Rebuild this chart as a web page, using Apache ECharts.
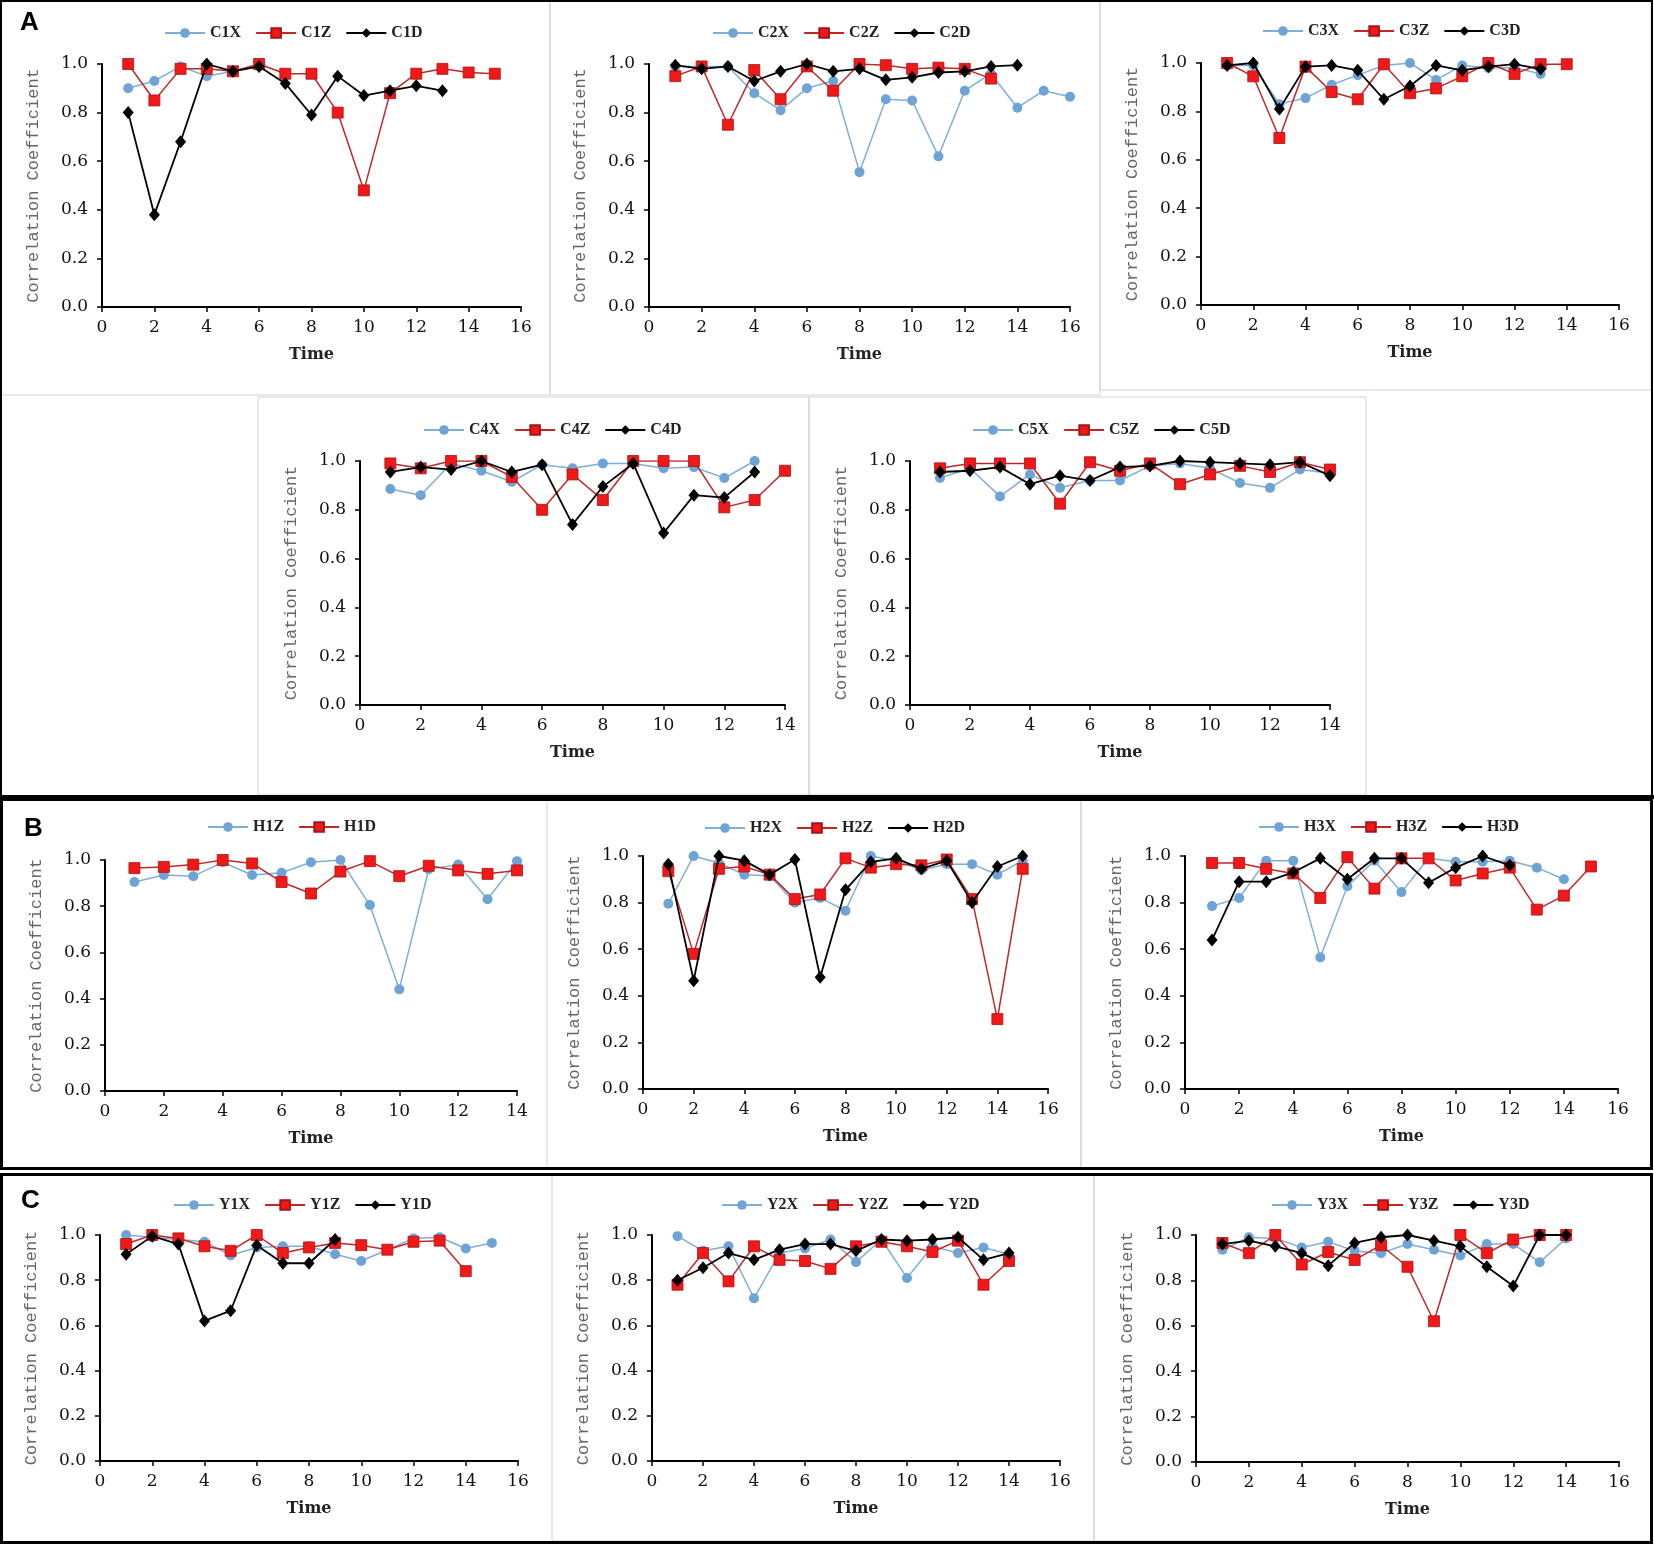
<!DOCTYPE html>
<html><head><meta charset="utf-8">
<script src="https://cdn.jsdelivr.net/npm/echarts@6/dist/echarts.min.js"></script>
<style>html,body{margin:0;padding:0;background:#fff}#c{width:1654px;height:1545px}</style>
</head><body><div id="c"></div><script>
// ---- data (x = Time 1..n) ----
const C1X = [0.90,0.93,0.99,0.95,0.97,0.99];
const C1Z = [1.00,0.85,0.98,0.98,0.97,1.00,0.96,0.96,0.80,0.48,0.88,0.96,0.98,0.965,0.96];
const C1D = [0.80,0.38,0.68,1.00,0.97,0.99,0.92,0.79,0.95,0.87,0.89,0.91,0.89];

const C2X = [0.99,0.99,0.99,0.88,0.81,0.90,0.93,0.555,0.855,0.85,0.62,0.89,0.96,0.82,0.89,0.865];
const C2Z = [0.95,0.99,0.75,0.975,0.855,0.99,0.89,1.00,0.995,0.98,0.985,0.98,0.94];
const C2D = [0.995,0.98,0.99,0.93,0.97,1.00,0.97,0.98,0.935,0.945,0.965,0.97,0.99,0.995];

const C3X = [0.99,0.99,0.83,0.855,0.91,0.95,0.99,1.00,0.93,0.99,0.98,0.98,0.955];
const C3Z = [1.00,0.945,0.69,0.985,0.88,0.85,0.995,0.875,0.895,0.945,1.00,0.955,0.995,0.995];
const C3D = [0.99,1.00,0.81,0.985,0.99,0.97,0.85,0.905,0.99,0.97,0.985,0.995,0.975];

const C4X = [0.885,0.86,0.99,0.96,0.915,0.985,0.97,0.99,0.99,0.97,0.975,0.93,1.00];
const C4Z = [0.99,0.97,1.00,1.00,0.935,0.80,0.945,0.84,1.00,1.00,1.00,0.81,0.84,0.96];
const C4D = [0.955,0.975,0.965,1.00,0.955,0.985,0.74,0.895,0.99,0.705,0.86,0.85,0.955];

const C5X = [0.93,0.97,0.855,0.945,0.89,0.92,0.92,0.98,0.99,0.97,0.91,0.89,0.965,0.95];
const C5Z = [0.97,0.99,0.99,0.99,0.825,0.995,0.96,0.99,0.905,0.945,0.98,0.955,0.995,0.965];
const C5D = [0.955,0.96,0.975,0.905,0.94,0.92,0.975,0.98,1.00,0.995,0.99,0.985,0.995,0.94];

const H1Z = [0.905,0.935,0.93,0.99,0.935,0.945,0.99,1.00,0.805,0.44,0.96,0.98,0.83,0.995];
const H1D = [0.965,0.97,0.98,1.00,0.985,0.905,0.855,0.95,0.995,0.93,0.975,0.955,0.94,0.955];

const H2X = [0.795,1.00,0.97,0.92,0.915,0.80,0.82,0.765,1.00,0.98,0.94,0.965,0.965,0.92,0.98];
const H2Z = [0.935,0.58,0.945,0.955,0.92,0.815,0.835,0.99,0.95,0.965,0.96,0.985,0.815,0.30,0.945];
const H2D = [0.965,0.465,1.00,0.98,0.92,0.985,0.48,0.855,0.975,0.99,0.945,0.98,0.80,0.955,1.00];

const H3X = [0.785,0.82,0.98,0.98,0.565,0.87,0.98,0.845,0.99,0.975,0.975,0.98,0.95,0.90];
const H3Z = [0.97,0.97,0.945,0.925,0.82,0.995,0.86,0.99,0.99,0.895,0.925,0.95,0.77,0.83,0.955];
const H3D = [0.64,0.89,0.89,0.93,0.99,0.90,0.99,0.99,0.885,0.95,1.00,0.96];

const Y1X = [1.00,0.99,0.98,0.97,0.91,0.945,0.95,0.95,0.915,0.885,0.935,0.985,0.99,0.94,0.965];
const Y1Z = [0.96,1.00,0.985,0.95,0.93,1.00,0.92,0.945,0.965,0.955,0.935,0.97,0.975,0.84];
const Y1D = [0.915,0.995,0.96,0.62,0.665,0.955,0.875,0.875,0.98];

const Y2X = [0.995,0.93,0.95,0.72,0.92,0.94,0.98,0.88,0.98,0.81,0.95,0.92,0.945,0.915];
const Y2Z = [0.78,0.92,0.795,0.95,0.89,0.885,0.85,0.95,0.97,0.95,0.925,0.975,0.78,0.885];
const Y2D = [0.80,0.855,0.92,0.89,0.935,0.96,0.96,0.93,0.98,0.975,0.98,0.99,0.89,0.92];

const Y3X = [0.935,0.99,0.985,0.945,0.97,0.93,0.92,0.96,0.935,0.91,0.96,0.96,0.88,0.985];
const Y3Z = [0.965,0.92,1.00,0.87,0.925,0.89,0.955,0.86,0.62,1.00,0.92,0.98,1.00,1.00];
const Y3D = [0.96,0.975,0.95,0.92,0.865,0.965,0.99,1.00,0.975,0.95,0.86,0.775,1.00,1.00];

const X_AXIS_NAME = 'Time';
const Y_AXIS_NAME = 'Correlation Coefficient';
const SECTION_LABELS = ['A','B','C'];

// ---- layout ----
const panels = [
  {s:[['C1X',C1X],['C1Z',C1Z],['C1D',C1D]], xMax:16, g:[102,64,419,243], lg:[159,29]},
  {s:[['C2X',C2X],['C2Z',C2Z],['C2D',C2D]], xMax:16, g:[649,64,421,243], lg:[707,29]},
  {s:[['C3X',C3X],['C3Z',C3Z],['C3D',C3D]], xMax:16, g:[1201,63,418,242], lg:[1257,27]},
  {s:[['C4X',C4X],['C4Z',C4Z],['C4D',C4D]], xMax:14, g:[360,461,425,244], lg:[418,426]},
  {s:[['C5X',C5X],['C5Z',C5Z],['C5D',C5D]], xMax:14, g:[910,461,420,244], lg:[967,426]},
  {s:[['H1Z',H1Z],['H1D',H1D]], xMax:14, g:[105,860,412,231], lg:[202,823]},
  {s:[['H2X',H2X],['H2Z',H2Z],['H2D',H2D]], xMax:16, g:[643,856,405,233], lg:[699,824]},
  {s:[['H3X',H3X],['H3Z',H3Z],['H3D',H3D]], xMax:16, g:[1185,856,433,233], lg:[1253,823]},
  {s:[['Y1X',Y1X],['Y1Z',Y1Z],['Y1D',Y1D]], xMax:16, g:[100,1235,418,226], lg:[168,1201]},
  {s:[['Y2X',Y2X],['Y2Z',Y2Z],['Y2D',Y2D]], xMax:16, g:[652,1235,408,226], lg:[716,1201]},
  {s:[['Y3X',Y3X],['Y3Z',Y3Z],['Y3D',Y3D]], xMax:16, g:[1196,1235,423,227], lg:[1266,1201]}
];

const styles = [
  {symbol:'circle', size:10, fill:'#6ea3d5', border:'#6ea3d5', bw:0, line:'#7eaed9', lw:1.5},
  {symbol:'rect', size:11, fill:'#f01818', border:'#a81414', bw:0.8, line:'#c02828', lw:1.5},
  {symbol:'diamond', size:[11,13], fill:'#000000', border:'#000000', bw:0, line:'#000000', lw:1.8}
];

const tickFont = {fontFamily:'DejaVu Serif', fontSize:17, color:'#111'};

const grid = [], xAxis = [], yAxis = [], legend = [], series = [];
panels.forEach((p,i) => {
  grid.push({left:p.g[0], top:p.g[1], width:p.g[2], height:p.g[3], containLabel:false});
  xAxis.push({type:'value', gridIndex:i, min:0, max:p.xMax, interval:2,
    name:X_AXIS_NAME, nameLocation:'middle', nameGap:40,
    nameTextStyle:{fontFamily:'DejaVu Serif', fontSize:16, fontWeight:'bold', color:'#222'},
    axisLine:{show:true, onZero:false, lineStyle:{color:'#000', width:2}},
    axisTick:{show:true, length:5, lineStyle:{color:'#000', width:1.5}},
    axisLabel:Object.assign({margin:12}, tickFont),
    splitLine:{show:false}});
  yAxis.push({type:'value', gridIndex:i, min:0, max:1, interval:0.2,
    name:Y_AXIS_NAME, nameLocation:'middle', nameGap:60,
    nameTextStyle:{fontFamily:'Liberation Mono', fontSize:17, color:'#666'},
    axisLine:{show:true, lineStyle:{color:'#000', width:2}},
    axisTick:{show:true, length:5, lineStyle:{color:'#000', width:1.5}},
    axisLabel:Object.assign({margin:14, formatter:v => v.toFixed(1)}, tickFont),
    splitLine:{show:false}});
  legend.push({data:p.s.map(d=>d[0]), left:p.lg[0], top:p.lg[1]-9, itemWidth:40, itemHeight:12, itemGap:14,
    textStyle:{fontFamily:'Liberation Serif', fontSize:16, fontWeight:'bold', color:'#222'}});
  p.s.forEach((d,j) => {
    const st = styles[j];
    series.push({type:'line', name:d[0], xAxisIndex:i, yAxisIndex:i,
      data:d[1].map((v,k)=>[k+1,v]),
      symbol:st.symbol, symbolSize:st.size, showAllSymbol:true,
      itemStyle:{color:st.fill, borderColor:st.border, borderWidth:st.bw},
      lineStyle:{color:st.line, width:st.lw},
      z:2+j, animation:false});
  });
});

const gray = '#d2d2d2';
const R = (x,y,w,h,c,lw) => ({type:'rect', silent:true, shape:{x,y,width:w,height:h}, style:{fill:'none', stroke:c, lineWidth:lw}});
const graphic = [
  R(0,0,550,395,gray,1), R(550,0,550,395,gray,1), R(1100,0,551,390,gray,1),
  R(258,397,551,398,gray,1), R(809,397,557,398,gray,1),
  R(547,800,534,368,gray,1), R(1081,800,570,368,gray,1),
  R(552,1175,542,366,gray,1), R(1094,1175,557,366,gray,1),
  R(1,1,1651,795,'#000',2),
  {type:'line', silent:true, shape:{x1:0,y1:797,x2:1654,y2:797}, style:{stroke:'#000', lineWidth:4}},
  R(1.5,799.5,1650,369,'#000',3),
  R(1.5,1174.5,1650,368,'#000',3),
  {type:'text', x:20, y:10, style:{text:SECTION_LABELS[0], font:'bold 26px "Liberation Sans"', fill:'#000'}},
  {type:'text', x:24, y:816, style:{text:SECTION_LABELS[1], font:'bold 26px "Liberation Sans"', fill:'#000'}},
  {type:'text', x:21, y:1188, style:{text:SECTION_LABELS[2], font:'bold 26px "Liberation Sans"', fill:'#000'}}
];

const chart = echarts.init(document.getElementById('c'), null, {renderer:'canvas'});
chart.setOption({animation:false, backgroundColor:'#fff', grid, xAxis, yAxis, legend, series, graphic});
</script></body></html>
